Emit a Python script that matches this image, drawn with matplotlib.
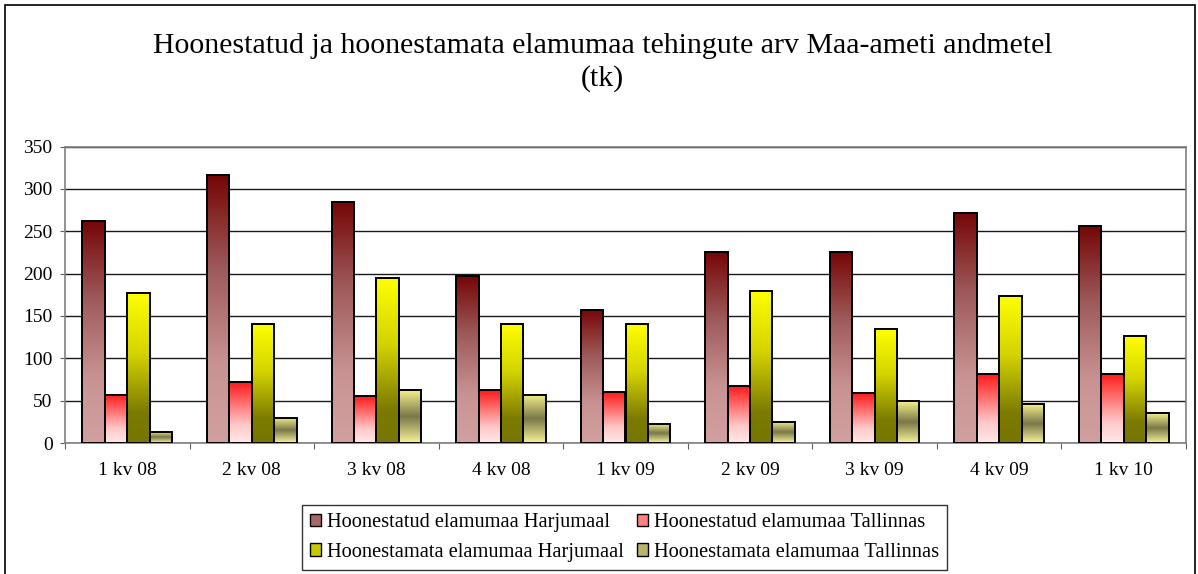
import numpy as np
import matplotlib
matplotlib.use("Agg")
import matplotlib.pyplot as plt
from matplotlib.colors import LinearSegmentedColormap
from matplotlib.patches import Rectangle, Patch

categories = ["1 kv 08", "2 kv 08", "3 kv 08", "4 kv 08", "1 kv 09",
              "2 kv 09", "3 kv 09", "4 kv 09", "1 kv 10"]
series_names = ["Hoonestatud elamumaa Harjumaal", "Hoonestatud elamumaa Tallinnas",
                "Hoonestamata elamumaa Harjumaal", "Hoonestamata elamumaa Tallinnas"]
hoonestatud_harju = [262, 316, 284, 197, 157, 225, 225, 272, 256]
hoonestatud_tallinn = [57, 72, 55, 62, 60, 67, 59, 81, 82]
hoonestamata_harju = [177, 141, 195, 141, 140, 180, 135, 174, 126]
hoonestamata_tallinn = [13, 30, 62, 57, 23, 25, 49, 46, 35]
yticks = [0, 50, 100, 150, 200, 250, 300, 350]
title = "Hoonestatud ja hoonestamata elamumaa tehingute arv Maa-ameti andmetel\n(tk)"

series = [hoonestatud_harju, hoonestatud_tallinn, hoonestamata_harju, hoonestamata_tallinn]

# gradient stops (bottom -> top)
cmaps = [
    LinearSegmentedColormap.from_list("s1", [(0, "#d2a0a0"), (0.3, "#c89292"), (0.65, "#9e5a5a"), (1, "#760606")]),
    LinearSegmentedColormap.from_list("s2", [(0, "#ffe8e8"), (0.3, "#ffc8c8"), (1, "#ff1a1a")]),
    LinearSegmentedColormap.from_list("s3", [(0, "#767600"), (0.2, "#7c7a00"), (0.6, "#d4d400"), (1, "#ffff00")]),
    LinearSegmentedColormap.from_list("s4", [(0, "#f8f498"), (0.5, "#7a7848"), (1, "#f4f08c")]),
]
legend_colors = ["#a86666", "#ff8080", "#c8c800", "#b8b46c"]

plt.rcParams['font.family'] = ['Liberation Serif', 'DejaVu Serif']

fig = plt.figure(figsize=(11.98, 5.74), dpi=100)
ax = fig.add_axes([65 / 1198, 1 - 443 / 574, (1186 - 65) / 1198, (443 - 146.5) / 574])

n = len(categories)
x = np.arange(n)
w = 0.18
offsets = [-1.5 * w, -0.5 * w, 0.5 * w, 1.5 * w]
grad = np.linspace(0, 1, 256).reshape(-1, 1)

for vals, off, cm in zip(series, offsets, cmaps):
    bars = ax.bar(x + off, vals, width=w, facecolor="none", edgecolor="black",
                  linewidth=1.4, zorder=4)
    for b in bars:
        x0 = b.get_x()
        ax.imshow(grad, cmap=cm, origin="lower", aspect="auto",
                  extent=[x0, x0 + b.get_width(), 0, b.get_height()],
                  zorder=3, interpolation="bilinear")

ax.set_xlim(-0.5, n - 0.5)
ax.set_ylim(0, 350)
ax.set_yticks(yticks)
ax.yaxis.grid(True, color="#1a1a1a", linewidth=1.0)
ax.set_axisbelow(True)
for s in ax.spines.values():
    s.set_color("#808080")
    s.set_linewidth(1.2)

ax.set_xticks(np.arange(n + 1) - 0.5)
ax.set_xticklabels([])
ax.set_xticks(x, minor=True)
ax.set_xticklabels(categories, minor=True)
ax.tick_params(axis="x", which="major", length=4, color="#606060", direction="out")
ax.tick_params(axis="x", which="minor", length=0, pad=14, labelsize=14)
ax.tick_params(axis="y", length=3.5, color="#606060", pad=5.5, labelsize=14)

fig.text(0.503, 1 - 62.5 / 574, title, ha="center", va="center", fontsize=21.5,
         linespacing=1.25)

order = [0, 2, 1, 3]
handles = [Patch(facecolor=legend_colors[i], edgecolor="black", linewidth=1.0) for i in order]
labels = [series_names[i] for i in order]
leg = fig.legend(handles, labels, loc="center", ncol=2,
                 bbox_to_anchor=(624.5 / 1198, 1 - 537.5 / 574), fontsize=14.7,
                 frameon=True, fancybox=False, edgecolor="black",
                 handlelength=0.55, handleheight=0.55, handletextpad=0.3,
                 columnspacing=0.6, borderpad=0.4, labelspacing=0.5)
leg.get_frame().set_linewidth(1.0)

fig.patches.append(Rectangle((5 / 1198, -0.1), (1195 - 5) / 1198, 1.1 - 5 / 574,
                             transform=fig.transFigure, fill=False,
                             edgecolor="black", linewidth=1.2))

fig.savefig("out.png", dpi=100)
